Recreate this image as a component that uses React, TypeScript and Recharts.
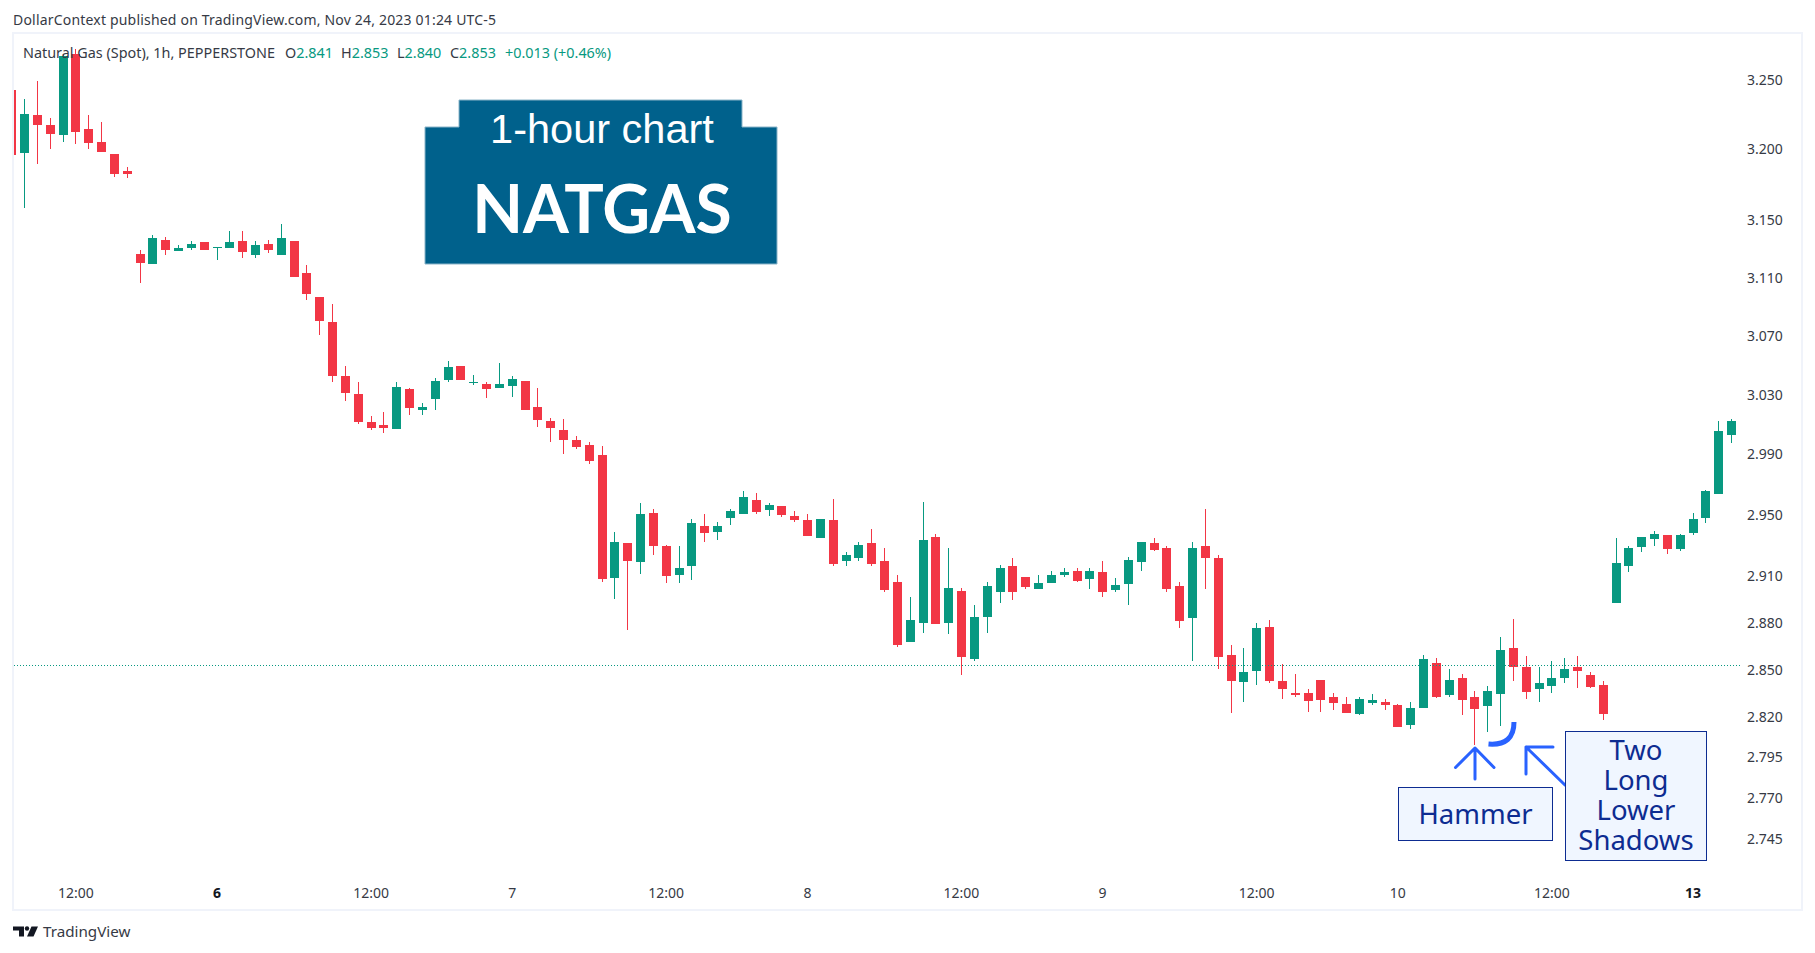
import { Bar, Cell, ComposedChart, ReferenceLine, XAxis, YAxis } from "recharts";

// hourly candles
const opens = [
  3.2425, 3.1971, 3.2246, 3.2175, 3.2099, 3.2684, 3.2144, 3.2052, 3.1968, 3.1847,
  3.1265, 3.1191, 3.1363, 3.1281, 3.1307, 3.1349, 3.1302, 3.1307, 3.1356, 3.126,
  3.1335, 3.126, 3.1356, 3.1133, 3.0966, 3.0795, 3.0427, 3.0305, 3.0117, 3.0098,
  3.0071, 3.0339, 3.0197, 3.0271, 3.04, 3.0496, 3.038, 3.0373, 3.0346, 3.0359,
  3.0394, 3.0217, 3.0124, 3.0064, 2.9998, 2.9964, 2.9898, 2.909, 2.9318, 2.9194,
  2.9513, 2.9299, 2.911, 2.9168, 2.9429, 2.939, 2.9481, 2.9507, 2.9598, 2.9533,
  2.9559, 2.9494, 2.9468, 2.9351, 2.9468, 2.9201, 2.922, 2.9318, 2.9201, 2.9064,
  2.868, 2.8801, 2.9357, 2.8801, 2.9006, 2.8572, 2.8839, 2.8999, 2.9168, 2.9097,
  2.9019, 2.9058, 2.911, 2.9136, 2.9084, 2.9129, 2.9012, 2.9051, 2.9194, 2.9318,
  2.9286, 2.9038, 2.8833, 2.9299, 2.922, 2.8597, 2.8425, 2.8495, 2.8775, 2.8432,
  2.8355, 2.8355, 2.8438, 2.833, 2.8286, 2.8224, 2.8292, 2.8299, 2.828, 2.8155,
  2.8261, 2.8546, 2.8343, 2.8451, 2.833, 2.8274, 2.8349, 2.8642, 2.8521, 2.8381,
  2.84, 2.8451, 2.8521, 2.847, 2.8406, 2.8928, 2.9168, 2.9292, 2.9344, 2.937,
  2.9279, 2.9383, 2.9481, 2.9638, 3.0031,
];
const highs = [
  3.244, 3.236, 3.2491, 3.2225, 3.2679, 3.2722, 3.2244, 3.2196, 3.1968, 3.1874,
  3.1293, 3.1397, 3.1383, 3.1328, 3.1356, 3.1349, 3.1309, 3.1425, 3.1425, 3.1356,
  3.1363, 3.1474, 3.1356, 3.1189, 3.0966, 3.0918, 3.0496, 3.0387, 3.0157, 3.0184,
  3.0387, 3.0346, 3.0244, 3.0414, 3.053, 3.0496, 3.0434, 3.0387, 3.0516, 3.0427,
  3.0394, 3.0346, 3.0144, 3.0137, 3.0024, 2.9984, 2.9958, 2.939, 2.9318, 2.9578,
  2.9539, 2.9305, 2.9299, 2.9474, 2.9507, 2.9455, 2.9539, 2.9658, 2.9645, 2.9578,
  2.9559, 2.9526, 2.9507, 2.9474, 2.9605, 2.9259, 2.9325, 2.9409, 2.9286, 2.911,
  2.8967, 2.9585, 2.9377, 2.9286, 2.9025, 2.8915, 2.9064, 2.9175, 2.922, 2.9097,
  2.911, 2.9136, 2.9155, 2.9155, 2.9155, 2.9201, 2.909, 2.9227, 2.9325, 2.9351,
  2.9299, 2.9064, 2.9325, 2.9539, 2.924, 2.8661, 2.8642, 2.8801, 2.882, 2.854,
  2.8476, 2.8381, 2.8438, 2.8355, 2.833, 2.833, 2.8349, 2.8317, 2.8286, 2.8299,
  2.8597, 2.8578, 2.8508, 2.8476, 2.8368, 2.84, 2.8712, 2.8826, 2.8591, 2.8521,
  2.8559, 2.8578, 2.8591, 2.8489, 2.8432, 2.9351, 2.9299, 2.9357, 2.9396, 2.937,
  2.9377, 2.9513, 2.9665, 3.0124, 3.0137,
];
const lows = [
  3.194, 3.1587, 3.1899, 3.1999, 3.2054, 3.2035, 3.1999, 3.1978, 3.1807, 3.18,
  3.1063, 3.1191, 3.126, 3.1281, 3.1288, 3.1288, 3.1219, 3.1307, 3.1239, 3.1239,
  3.1267, 3.126, 3.1107, 3.0945, 3.0707, 3.0387, 3.0257, 3.0104, 3.0064, 3.0044,
  3.0071, 3.0164, 3.0164, 3.0197, 3.0387, 3.04, 3.0366, 3.0278, 3.0346, 3.0284,
  3.0197, 3.0084, 2.9984, 2.9904, 2.9938, 2.9838, 2.9064, 2.8954, 2.8756, 2.9116,
  2.924, 2.9058, 2.9058, 2.9077, 2.9325, 2.9338, 2.9435, 2.9507, 2.9507, 2.9494,
  2.9487, 2.9455, 2.9364, 2.9351, 2.9168, 2.9168, 2.9201, 2.9168, 2.8999, 2.8648,
  2.868, 2.8737, 2.8794, 2.8731, 2.847, 2.8559, 2.8737, 2.8928, 2.8947, 2.9019,
  2.9019, 2.9058, 2.9097, 2.9064, 2.9019, 2.8967, 2.8999, 2.8915, 2.9136, 2.9266,
  2.8999, 2.8769, 2.8559, 2.9019, 2.8508, 2.823, 2.8299, 2.8406, 2.8419, 2.8317,
  2.833, 2.8236, 2.8236, 2.8249, 2.823, 2.8217, 2.828, 2.8249, 2.8142, 2.813,
  2.8261, 2.8324, 2.833, 2.8217, 2.803, 2.8111, 2.8149, 2.8432, 2.8317, 2.8299,
  2.8355, 2.8419, 2.8387, 2.8387, 2.8186, 2.8928, 2.9129, 2.9259, 2.9299, 2.9246,
  2.9266, 2.937, 2.9448, 2.9638, 2.9978,
];
const closes = [
  3.1961, 3.2253, 3.2177, 3.2113, 3.2674, 3.2127, 3.2042, 3.1978, 3.1828, 3.1828,
  3.1198, 3.1377, 3.1288, 3.1307, 3.1335, 3.1288, 3.1309, 3.1349, 3.1274, 3.1328,
  3.1288, 3.1377, 3.1107, 3.0989, 3.0804, 3.0427, 3.0314, 3.0117, 3.0078, 3.0078,
  3.0353, 3.0211, 3.0217, 3.0394, 3.0489, 3.04, 3.0387, 3.0339, 3.0373, 3.0407,
  3.0197, 3.0131, 3.0078, 2.9998, 2.9951, 2.9858, 2.9084, 2.9325, 2.9201, 2.9507,
  2.9299, 2.9103, 2.9155, 2.9448, 2.9383, 2.9429, 2.9526, 2.9618, 2.952, 2.9565,
  2.95, 2.9468, 2.9364, 2.9474, 2.9181, 2.924, 2.9305, 2.9181, 2.9012, 2.8661,
  2.882, 2.9338, 2.8794, 2.9025, 2.8584, 2.8839, 2.9038, 2.9155, 2.8999, 2.9032,
  2.9058, 2.911, 2.9129, 2.9071, 2.9136, 2.8999, 2.9045, 2.9207, 2.9325, 2.9272,
  2.9019, 2.8813, 2.9286, 2.922, 2.8584, 2.8432, 2.8489, 2.8769, 2.8432, 2.8381,
  2.8343, 2.8305, 2.8311, 2.8292, 2.823, 2.8317, 2.8311, 2.828, 2.8142, 2.8261,
  2.8572, 2.833, 2.8438, 2.8311, 2.8255, 2.8368, 2.8629, 2.8521, 2.8362, 2.8419,
  2.8451, 2.8508, 2.8495, 2.8394, 2.8224, 2.9188, 2.9286, 2.9357, 2.9377, 2.9279,
  2.937, 2.9474, 2.9658, 3.0058, 3.0124,
];

const priceTicks = [3.25, 3.2, 3.15, 3.11, 3.07, 3.03, 2.99, 2.95, 2.91, 2.88, 2.85, 2.82, 2.795, 2.77, 2.745];
const timeTicks = [5, 16, 28, 39, 51, 62, 74, 85, 97, 108, 120, 131];
const timeLabels = ["12:00", "6", "12:00", "7", "12:00", "8", "12:00", "9", "12:00", "10", "12:00", "13"];
const boldLabels = ["6", "13"];
const shadowLines = ["Two", "Long", "Lower", "Shadows"];
const lastClose = 2.853;

const UP = "#089981";
const DOWN = "#f23645";
const INK = "#363a45";
const FONT = "'Noto Sans', sans-serif";
const NOTE_INK = "#0d2c91";
const NOTE_BLUE = "#2962ff";
const X_DOMAIN = [0.182, 134.66];

const candles = opens.map((open, i) => ({
  idx: i,
  wick: [lows[i], highs[i]],
  body: [Math.min(open, closes[i]), Math.max(open, closes[i])],
  up: closes[i] >= open,
}));

function TimeTick({ x, y, payload }: any) {
  const label = timeLabels[timeTicks.indexOf(payload.value)];
  const bold = boldLabels.includes(label);
  return (
    <text
      x={x}
      y={y}
      textAnchor="middle"
      fontFamily={FONT}
      fontSize={14}
      fontWeight={bold ? 700 : 400}
      fill={bold ? "#131722" : INK}
    >
      {label}
    </text>
  );
}

function Notes() {
  return (
    <svg width={1815} height={953} style={{ position: "absolute", left: 0, top: 0, pointerEvents: "none" }}>
      <text x={13} y={25} fontFamily={FONT} fontSize={14} textLength={483} fill={INK}>
        DollarContext published on TradingView.com, Nov 24, 2023 01:24 UTC-5
      </text>
      <text y={58} fontFamily={FONT} fontSize={14.4} fill={INK}>
        <tspan x={23}>Natural Gas (Spot), 1h, PEPPERSTONE</tspan>
        <tspan x={285}>O</tspan>
        <tspan fill={UP}>2.841</tspan>
        <tspan x={341}>H</tspan>
        <tspan fill={UP}>2.853</tspan>
        <tspan x={397}>L</tspan>
        <tspan fill={UP}>2.840</tspan>
        <tspan x={450}>C</tspan>
        <tspan fill={UP}>2.853</tspan>
        <tspan x={505} fill={UP}>+0.013 (+0.46%)</tspan>
      </text>

      <polygon
        points="425,127 459,127 459,100 742,100 742,127 777,127 777,264 425,264"
        fill="#00618c"
        stroke="#8ab4c8"
        strokeWidth={1}
      />
      <text x={602} y={143} textAnchor="middle" fontFamily="'Liberation Sans', sans-serif" fontSize={41.5} fill="#fff">
        1-hour chart
      </text>
      <text x={602} y={233} textAnchor="middle" fontFamily="Lato, sans-serif" fontWeight={700} fontSize={66} fill="#fff">
        NATGAS
      </text>

      <g fill="none" stroke={NOTE_BLUE} strokeLinecap="round" strokeLinejoin="round">
        <path d="M1475 779 L1475 748 M1455.5 767.5 L1475 748 L1494 767.5" strokeWidth={3} />
        <path d="M1565 785 L1526 747 M1553 747 L1526 747 L1526 774" strokeWidth={3} />
        <path d="M1488.5 744 Q1514 746 1514 722" strokeWidth={5} strokeLinecap="butt" />
      </g>

      <rect x={1398.5} y={787.5} width={154} height={53} fill="#f0f6ff" stroke={NOTE_INK} strokeWidth={1} />
      <text x={1475.5} y={824} textAnchor="middle" fontFamily={FONT} fontSize={27.5} fill={NOTE_INK}>
        Hammer
      </text>
      <rect x={1565.5} y={731.5} width={141} height={129} fill="#f0f6ff" stroke={NOTE_INK} strokeWidth={1} />
      <text y={760} textAnchor="middle" fontFamily={FONT} fontSize={27.5} fill={NOTE_INK}>
        {shadowLines.map((line, i) => (
          <tspan key={line} x={1636} dy={i === 0 ? 0 : 30}>
            {line}
          </tspan>
        ))}
      </text>

      <g fill="#131722">
        <path d="M13 926.5 h11 v10 h-5 v-6 h-6 z" />
        <circle cx={27} cy={928.5} r={2.2} />
        <path d="M31.5 926.5 h6.5 l-4.5 10 h-6.5 z" />
      </g>
      <text x={43} y={937} fontFamily={FONT} fontSize={15.2} fill={INK}>
        TradingView
      </text>
    </svg>
  );
}

export default function App() {
  return (
    <div style={{ position: "absolute", left: 0, top: 0, width: 1815, height: 953, background: "#fff", overflow: "hidden" }}>
      <div
        style={{
          position: "absolute",
          left: 12,
          top: 32,
          width: 1787,
          height: 875,
          border: "2px solid #f0f3fa",
        }}
      />
      <div style={{ position: "absolute", left: 0, top: 0 }}>
        <ComposedChart width={1815} height={953} data={candles} margin={{ top: 34, right: 15, bottom: 53, left: 14 }}>
          <XAxis
            xAxisId="body"
            dataKey="idx"
            type="number"
            domain={X_DOMAIN}
            allowDataOverflow
            ticks={timeTicks}
            interval={0}
            tick={<TimeTick />}
            tickLine={false}
            axisLine={false}
            tickMargin={22}
            height={30}
          />
          <XAxis xAxisId="wick" dataKey="idx" type="number" domain={X_DOMAIN} allowDataOverflow hide />
          <YAxis
            orientation="right"
            scale="log"
            domain={[2.7259, 3.2832]}
            allowDataOverflow
            ticks={priceTicks}
            interval={0}
            width={60}
            tickLine={false}
            axisLine={false}
            tickMargin={7}
            tickSize={0}
            tickFormatter={(v: number) => v.toFixed(3)}
            tick={{ fill: INK, fontSize: 14, fontFamily: FONT }}
          />
          <ReferenceLine
            xAxisId="body"
            y={lastClose}
            stroke={UP}
            strokeDasharray="1 2"
            strokeWidth={1}
            shapeRendering="crispEdges"
          />
          <Bar xAxisId="wick" dataKey="wick" barSize={1} isAnimationActive={false} shapeRendering="crispEdges">
            {candles.map((c) => (
              <Cell key={c.idx} fill={c.up ? UP : DOWN} />
            ))}
          </Bar>
          <Bar xAxisId="body" dataKey="body" barSize={9} isAnimationActive={false} shapeRendering="crispEdges">
            {candles.map((c) => (
              <Cell key={c.idx} fill={c.up ? UP : DOWN} />
            ))}
          </Bar>
        </ComposedChart>
      </div>
      <Notes />
    </div>
  );
}
